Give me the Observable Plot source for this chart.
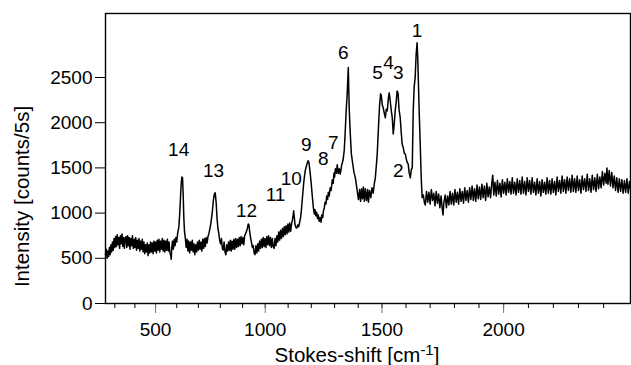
<!DOCTYPE html>
<html><head><meta charset="utf-8">
<script src="https://cdn.jsdelivr.net/npm/d3@7"></script>
<script src="https://cdn.jsdelivr.net/npm/@observablehq/plot@0.6"></script>
<style>
body{margin:0;background:#fff}
svg{font-family:"Liberation Sans",Arial,Helvetica,sans-serif}
</style>
</head><body><div id="chart"></div>
<script>
// Raman spectrum: [Stokes shift (cm^-1), intensity (counts/5s)]
const lowRegion = [
  [252,540],[256,600],[260,500],[264,580],[268,520],[272,620],[276,540],[280,650],[284,570],[288,680],
  [292,590],[296,720],[300,620],[304,740],[308,630],[312,760],[316,650],[320,730],[324,610],[328,750],
  [332,660],[336,770],[340,630],[344,730],[348,610],[352,720],[356,740],[360,620],[364,750],[368,640],
  [372,730],[376,600],[380,720],[384,640],[388,750],[392,610],[396,710],[400,620],[404,730],[408,590],
  [412,700],[416,610],[420,720],[424,580],[428,690],[432,600],[436,710],[440,570],[444,680],[448,550],
  [452,650],[456,570],[460,670],[464,530],[468,650],[472,560],[476,680],[480,570],[484,670],[488,550],
  [492,690],[496,580],[500,680],[504,560],[508,700],[512,590],[516,710],[520,570],[524,690],[528,600],
  [532,720],[536,580],[540,700],[544,570],[548,690],[552,590],[556,710],[560,580],[564,680],[568,560],
  [572,530],[574,490],[577,620],[580,690],[584,600],[588,710],[592,640],[596,730],[600,680],[604,770],
  [610,850],[614,1000],[618,1200],[621,1330],[624,1400],[627,1390],[630,1200],[633,950],[636,800],[640,720],
  [644,620],[648,710],[652,580],[656,690],[660,560],[664,680],[668,590],[672,700],[676,570],[680,660],
  [684,540],[688,650],[692,570],[696,680],[700,590],[704,700],[708,600],[712,680],[716,580],[720,710],
  [724,610],[728,720],[732,630],[736,730],[740,670],[744,740],[748,770],[752,820],[756,870],[760,940],
  [764,1020],[769,1150],[773,1210],[777,1225],[781,1120],[785,950],[789,830],[793,780],[797,700],[801,660],
  [805,720],[809,610],[813,590],[817,680],[821,570],[825,540],[829,650],[833,580],[837,680],[841,590],
  [845,700],[849,580],[853,690],[857,600],[861,710],[865,600],[869,720],[873,620],[877,710],[881,630],
  [885,730],[889,640],[893,740],[897,660],[901,730],[905,650],[909,750],[913,770],[917,800],[921,830],
  [925,880],[928,870],[931,800],[935,730],[939,680],[943,620],[947,640],[951,560],[955,540],[959,640],
  [963,560],[967,660],[971,580],[975,690],[979,610],[983,710],[987,620],[991,730],[995,630],[999,720],
  [1003,620],[1007,740],[1011,650],[1015,750],[1019,640],[1023,730],[1027,620],[1031,720],[1035,630],[1039,610],
  [1043,720],[1047,640],[1051,750],[1055,680],[1059,790],[1063,700],[1067,810],[1071,720],[1075,830],[1079,740],
  [1083,850],[1087,760],[1091,860],[1095,770],[1099,880],[1103,790],[1107,890],[1111,800],[1115,880],[1119,930],
  [1122,980],[1124,1025],[1127,950],[1130,870],[1134,840],[1138,835],[1142,870],[1146,850],[1150,900],[1154,950]
];
const peakRegion = [
  [1158,1050],[1163,1200],[1168,1350],[1174,1470],[1180,1530],[1186,1580],[1190,1560],[1195,1450],[1199,1350],[1204,1200],
  [1209,1060],[1213,990],[1216,1040],[1220,970],[1223,1010],[1227,940],[1230,980],[1234,910],[1238,950],[1242,900],
  [1245,980],[1249,950],[1252,1020],[1256,1060],[1259,1120],[1263,1100],[1266,1190],[1270,1150],[1273,1230],[1277,1190],
  [1281,1280],[1285,1250],[1290,1370],[1294,1330],[1297,1440],[1300,1400],[1303,1490],[1308,1440],[1311,1535],[1316,1440],
  [1320,1490],[1324,1430],[1330,1530],[1336,1590],[1341,1700],[1345,1900],[1349,2130],[1353,2300],[1358,2611],[1362,2150],
  [1366,1900],[1371,1655],[1376,1560],[1382,1450],[1388,1390],[1394,1280],[1401,1150],[1406,1260],[1410,1130],[1414,1270],
  [1418,1160],[1422,1290],[1426,1130],[1430,1270],[1435,1140],[1440,1260],[1443,1120],[1448,1250],[1453,1170],[1458,1280],
  [1463,1220],[1468,1330],[1472,1390],[1476,1520],[1480,1655],[1485,1940],[1490,2200],[1494,2320],[1497,2300],[1501,2200],
  [1505,2165],[1510,2100],[1514,2055],[1518,2150],[1522,2130],[1527,2280],[1530,2330],[1534,2250],[1539,2130],[1543,2050],
  [1547,1875],[1551,1980],[1555,2130],[1559,2220],[1563,2350],[1567,2330],[1571,2150],[1576,2055],[1580,1900],[1584,1765],
  [1589,1720],[1593,1660],[1597,1655],[1601,1600],[1605,1560],[1609,1545],[1613,1450],[1618,1390],[1622,1480],[1626,1500],
  [1630,2130],[1634,2400],[1638,2495],[1642,2750],[1646,2884],[1649,2700],[1651,2495],[1655,2100],[1659,1765],[1663,1400],
  [1667,1170],[1672,1200],[1676,1120]
];
const highRegion = [
  [1680,1090],[1685,1240],[1690,1120],[1695,1230],[1700,1100],[1705,1260],[1710,1140],[1715,1220],[1720,1080],[1725,1240],
  [1730,1110],[1735,1210],[1740,1060],[1745,1190],[1750,1040],[1753,980],[1757,1130],[1762,1200],[1767,1060],[1772,1190],
  [1777,1090],[1782,1240],[1787,1100],[1792,1220],[1797,1090],[1802,1260],[1807,1120],[1812,1230],[1817,1100],[1822,1270],
  [1827,1130],[1832,1240],[1837,1110],[1842,1280],[1847,1140],[1852,1250],[1857,1120],[1862,1280],[1867,1150],[1872,1300],
  [1877,1140],[1882,1270],[1887,1130],[1892,1310],[1897,1160],[1902,1290],[1907,1150],[1912,1320],[1917,1170],[1922,1300],
  [1927,1140],[1932,1330],[1937,1180],[1942,1290],[1947,1170],[1952,1330],[1956,1420],[1960,1200],[1965,1340],[1970,1190],
  [1975,1360],[1980,1210],[1985,1330],[1990,1180],[1995,1370],[2000,1220],[2005,1340],[2010,1200],[2015,1380],[2020,1230],
  [2025,1350],[2030,1210],[2035,1390],[2040,1220],[2045,1340],[2050,1200],[2055,1380],[2060,1230],[2065,1360],[2070,1210],
  [2075,1400],[2080,1220],[2085,1350],[2090,1200],[2095,1390],[2100,1240],[2105,1360],[2110,1210],[2115,1390],[2120,1230],
  [2125,1340],[2130,1200],[2135,1380],[2140,1220],[2145,1350],[2150,1190],[2155,1370],[2160,1230],[2165,1340],[2170,1210],
  [2175,1390],[2180,1220],[2185,1360],[2190,1210],[2195,1380],[2200,1230],[2205,1350],[2210,1200],[2215,1400],[2220,1240],
  [2225,1360],[2230,1220],[2235,1410],[2240,1240],[2245,1370],[2250,1220],[2255,1400],[2260,1250],[2265,1380],[2270,1230],
  [2275,1420],[2280,1240],[2285,1380],[2290,1230],[2295,1410],[2300,1250],[2305,1370],[2310,1220],[2315,1410],[2320,1260],
  [2325,1380],[2330,1240],[2335,1430],[2340,1250],[2345,1380],[2350,1230],[2355,1420],[2360,1260],[2365,1390],[2370,1240],
  [2375,1430],[2380,1270],[2385,1400],[2390,1280],[2395,1460],[2400,1310],[2405,1440],[2410,1330],[2413,1500],[2417,1320],
  [2422,1470],[2427,1300],[2432,1450],[2437,1280],[2442,1410],[2447,1250],[2452,1390],[2457,1230],[2462,1380],[2467,1240],
  [2472,1370],[2477,1220],[2482,1360],[2487,1230],[2492,1380],[2497,1220],[2502,1350],[2506,1270]
];

// Peak numbers and where their labels sit (data units)
const peakNames = ["1","2","3","4","5","6","7","8","9","10","11","12","13","14"];
const peakLabelShift = [1646,1568,1568,1527,1481,1337,1294,1252,1178,1114,1045,917,769,609];
const peakLabelIntensity = [3017,1468,2552,2663,2552,2773,1778,1601,1756,1380,1202,1025,1468,1700];

const xMajorTicks = [500,1000,1500,2000];
const xMinorTicks = [300,400,500,600,700,800,900,1000,1100,1200,1300,1400,1500,1600,1700,1800,1900,2000,2100,2200,2300,2400];
const yTicks = [0,500,1000,1500,2000,2500];
const xTitle = "Stokes-shift [cm-1]";
const yTitle = "Intensity [counts/5s]";

const spectrum = [...lowRegion, ...peakRegion, ...highRegion].map(([s, v]) => ({shift: s, intensity: v}));
const peaks = peakNames.map((n, i) => ({name: n, shift: peakLabelShift[i], intensity: peakLabelIntensity[i]}));

const chart = Plot.plot({
  width: 631,
  height: 365,
  marginLeft: 105,
  marginRight: 1,
  marginTop: 13,
  marginBottom: 62,
  style: {fontFamily: '"Liberation Sans", Arial, Helvetica, sans-serif', fontSize: "19px", background: "white", color: "black"},
  x: {type: "pow", exponent: 1.12, domain: [252, 2506], label: null},
  y: {domain: [0, 3208], label: null},
  marks: [
    Plot.axisX({ticks: xMinorTicks, tickSize: 5, fill: "none", label: null}),
    Plot.axisX({ticks: xMajorTicks, tickSize: 10, fill: "none", stroke: "#777", label: null}),
    Plot.axisX({ticks: xMajorTicks, tickSize: 0, tickPadding: 19, fontSize: 19, label: null, tickFormat: d => String(d)}),
    Plot.axisY({ticks: yTicks, tickSize: 10, tickPadding: 3, fontSize: 19, label: null, tickFormat: d => String(d)}),
    Plot.frame({stroke: "black", strokeWidth: 1.4}),
    Plot.line(spectrum, {x: "shift", y: "intensity", stroke: "black", strokeWidth: 1.5}),
    Plot.text(peaks, {x: "shift", y: "intensity", text: "name", fontSize: 19, fill: "black"}),
    Plot.text([xTitle], {frameAnchor: "bottom", lineAnchor: "bottom", textAnchor: "middle", dx: -11, dy: 58, fontSize: 20.5, text: d => d, fill: "black"}),
    Plot.text([yTitle], {frameAnchor: "left", textAnchor: "middle", rotate: -90, dx: -83.5, dy: 38, fontSize: 20.5, text: d => d, fill: "black"})
  ]
});

// superscript in the x title
chart.querySelectorAll("text").forEach(t => {
  if (t.textContent === xTitle) {
    t.textContent = "";
    const ns = "http://www.w3.org/2000/svg";
    const a = document.createElementNS(ns, "tspan"); a.textContent = "Stokes-shift [cm";
    const b = document.createElementNS(ns, "tspan"); b.textContent = "-1"; b.setAttribute("dy", "-7"); b.setAttribute("font-size", "15");
    const c = document.createElementNS(ns, "tspan"); c.textContent = "]"; c.setAttribute("dy", "7");
    t.append(a, b, c);
  }
});

document.getElementById("chart").append(chart);
</script>
</body></html>
